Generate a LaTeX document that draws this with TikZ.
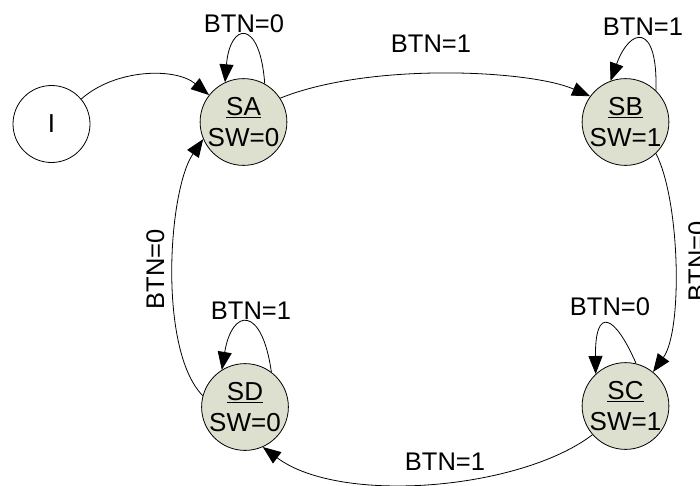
\documentclass[tikz,border=0pt]{standalone}
\usepackage{fontspec}
\setmainfont{Liberation Sans}
\usetikzlibrary{arrows.meta}
\definecolor{statefill}{RGB}{221,224,206}
\tikzset{
  state/.style={circle, draw, line width=0.8pt, fill=statefill, minimum size=77pt,
    inner sep=0pt, align=center, font=\fontsize{26}{31}\selectfont},
  initstate/.style={circle, draw, line width=0.8pt, fill=white, minimum size=77pt,
    inner sep=0pt, font=\fontsize{26}{31}\selectfont},
  trans/.style={line width=0.8pt, -{Triangle[length=18pt,width=14pt]}},
  lbl/.style={inner sep=0pt, font=\fontsize{25.5}{31}\selectfont}
}
\begin{document}
\begin{tikzpicture}[x=1pt,y=-1pt]
\useasboundingbox (0,0) rectangle (700,485);

% states
\node[initstate] (I)  at (51.5,124) {I};
\node[state]     (SA) at (243.5,122) {\underline{SA}\\SW=0};
\node[state]     (SB) at (625.5,122) {\underline{SB}\\SW=1};
\node[state]     (SC) at (625.5,406) {\underline{SC}\\SW=1};
\node[state]     (SD) at (245,407)   {\underline{SD}\\SW=0};

% initial transition
\draw[trans] (I.40) .. controls (115,69) and (175,67) .. (SA.142);

% self loops
\draw[trans] (SA.61) .. controls (260,18) and (230,22) .. (SA.115);
\draw[trans] (SB.46) .. controls (658,22) and (630,27) .. (SB.110);
\draw[trans] (SC.76) .. controls (615,315) and (595,305) .. (SC.133);
\draw[trans] (SD.53) .. controls (262,305) and (232,308) .. (SD.122);

% transitions between states
\draw[trans] (SA.33)  .. controls (370,62) and (530,70) .. (SB.144);
\draw[trans] (SB.-46) .. controls (680,200) and (683,330) .. (SC.51);
\draw[trans] (SC.221) .. controls (520,490) and (340,505) .. (SD.-66);
\draw[trans] (SD.165) .. controls (158,350) and (168,190) .. (SA.203);

% transition labels
\node[lbl] (lAA) at (244,23.5) {BTN=0};
\node[lbl] (lBB) at (643,26.5) {BTN=1};
\node[lbl] (lCC) at (610,306.5) {BTN=0};
\node[lbl] (lDD) at (251,310.5) {BTN=1};
\node[lbl] (lAB) at (431,44) {BTN=1};
\node[lbl] (lCD) at (445,462) {BTN=1};
\node[lbl, rotate=90, anchor=base] (lBC) at (706,261) {BTN=0};
\node[lbl, rotate=90, anchor=base] (lDA) at (164,269) {BTN=0};
\end{tikzpicture}
\end{document}
